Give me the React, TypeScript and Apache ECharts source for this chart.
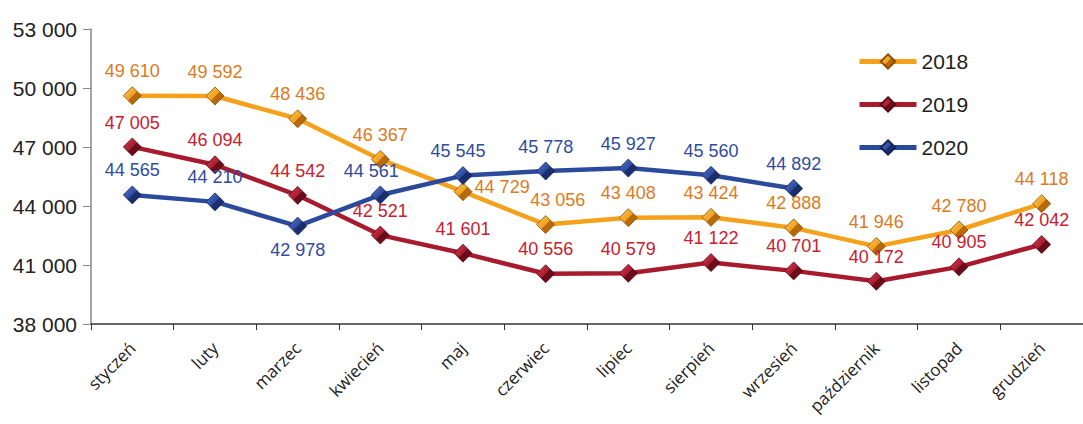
import React, { useEffect, useRef } from "react";
import * as echarts from "echarts";

const months = ["styczeń", "luty", "marzec", "kwiecień", "maj", "czerwiec", "lipiec", "sierpień", "wrzesień", "październik", "listopad", "grudzień"];
const s2018 = [49610, 49592, 48436, 46367, 44729, 43056, 43408, 43424, 42888, 41946, 42780, 44118];
const s2019 = [47005, 46094, 44542, 42521, 41601, 40556, 40579, 41122, 40701, 40172, 40905, 42042];
const s2020 = [44565, 44210, 42978, 44561, 45545, 45778, 45927, 45560, 44892];

const fmt = (v: number) => String(Math.round(v)).replace(/\B(?=(\d{3})+(?!\d))/g, " ");

const diamondGrad = (light: string, mid: string, dark: string) =>
  new echarts.graphic.LinearGradient(0, 0, 1, 1, [
    { offset: 0, color: light },
    { offset: 0.5, color: mid },
    { offset: 0.51, color: dark },
    { offset: 1, color: dark },
  ]);

export default function App() {
  const ref = useRef<HTMLDivElement>(null);
  useEffect(() => {
    if (!ref.current) return;
    const chart = echarts.init(ref.current, null, { renderer: "svg" });
    const mk = (
      name: string,
      data: number[],
      line: string,
      labelColor: string,
      grad: any,
      border: string,
      labelOverrides: Record<number, any>
    ) => ({
      name,
      type: "line",
      data: data.map((v, i) =>
        labelOverrides[i] ? { value: v, label: labelOverrides[i] } : v
      ),
      symbol: "diamond",
      symbolSize: [18, 18],
      lineStyle: { color: line, width: 4.5 },
      itemStyle: { color: grad, borderColor: border, borderWidth: 0.8 },
      label: {
        show: true,
        position: "top",
        distance: 6,
        color: labelColor,
        fontSize: 18,
        fontFamily: "Liberation Sans, Arial, sans-serif",
        formatter: (p: any) => fmt(p.value),
      },
      z: 2,
    });
    chart.setOption({
      animation: false,
      backgroundColor: "#fff",
      grid: { left: 91, top: 29, bottom: 100, right: -11 },
      legend: {
        orient: "vertical",
        left: 852,
        top: 46,
        itemWidth: 57,
        itemHeight: 18,
        itemGap: 22,
        lineStyle: { width: 5 },
        textStyle: { fontSize: 21, color: "#222", fontFamily: "Liberation Sans, Arial, sans-serif" },
        data: ["2018", "2019", "2020"],
      },
      xAxis: {
        type: "category",
        data: months,
        boundaryGap: true,
        axisLine: { lineStyle: { color: "#333", width: 1.5 } },
        axisTick: { show: true, length: 6, lineStyle: { color: "#333" } },
        axisLabel: {
          rotate: 45,
          margin: 21,
          fontSize: 17,
          color: "#222",
          fontFamily: "Open Sans, Noto Sans, sans-serif",
          interval: 0,
        },
      },
      yAxis: {
        type: "value",
        min: 38000,
        max: 53000,
        interval: 3000,
        axisLine: { show: true, lineStyle: { color: "#888", width: 1.5 } },
        axisTick: { show: true, inside: false, length: 8, lineStyle: { color: "#888" } },
        splitLine: { show: false },
        axisLabel: {
          fontSize: 21,
          color: "#222",
          margin: 14,
          fontFamily: "Liberation Sans, Arial, sans-serif",
          formatter: (v: number) => fmt(v),
        },
      },
      series: [
        mk("2018", s2018, "#F5A11C", "#DC7A22",
          diamondGrad("#FBCB5A", "#F0A020", "#B86A08"), "#8A5206",
          { 4: { position: [21, -4], distance: 0 }, 5: { offset: [12, 0] } }),
        mk("2019", s2019, "#A81B2E", "#C8202F",
          diamondGrad("#D0404F", "#A81B2E", "#6A0C1A"), "#5A0A16", {}),
        mk("2020", s2020, "#2C4A9C", "#2F4C9E",
          diamondGrad("#5478D0", "#2C4A9C", "#1A2D6C"), "#14245A",
          { 2: { position: "bottom" }, 3: { offset: [-9, 0] }, 4: { offset: [-5, 0] } }),
      ],
    });
    return () => chart.dispose();
  }, []);
  return <div ref={ref} style={{ width: 1083, height: 424, position: "absolute", left: 0, top: 0 }} />;
}
